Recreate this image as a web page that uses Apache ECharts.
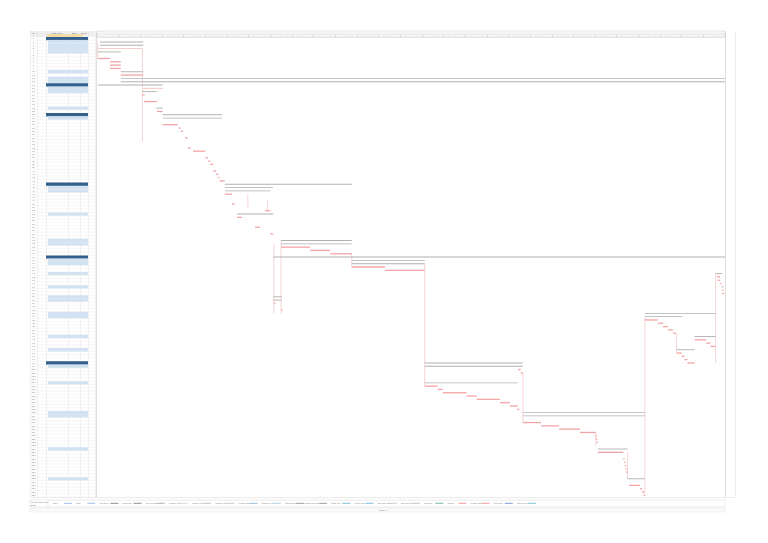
<!DOCTYPE html>
<html><head><meta charset="utf-8">
<script src="https://cdn.jsdelivr.net/npm/echarts@6/dist/echarts.min.js"></script>
<style>html,body{margin:0;padding:0;background:#fff}#c{width:768px;height:543px}</style>
</head><body><div id="c"></div><script>
// ---- data (days from project start, table rows) ----
const rowCount = 139;
const kindNames = ['crit', 'sum', 'csum'];
const taskRow = [1,2,3,4,6,7,8,9,10,11,12,13,14,15,16,17,19,21,22,23,24,26,27,28,30,33,34,36,37,38,40,41,42,43,44,45,46,47,50,52,53,54,57,59,61,62,63,64,65,66,67,68,69,70,71,72,73,74,75,76,77,78,79,80,82,83,84,85,86,87,88,89,90,91,92,93,94,95,96,97,98,98,99,100,101,104,105,106,107,108,109,110,111,112,113,114,116,117,118,119,120,121,122,124,125,127,128,129,130,131,133,135,136,137,138];
const taskStart = [4,4,1,1,1,18,18,18,33,33,33,33,1,64,63,63,65,82,83,91,91,91,113,116,122,126,133,150,154,157,161,165,168,170,177,177,177,177,187,233,194,194,219,240,255,255,255,295,323,244,353,353,353,399,857,859,860,863,865,866,866,244,244,245,255,759,759,759,777,784,791,798,828,828,844,850,803,803,810,814,818,454,454,583,587,454,454,472,479,512,526,558,572,582,590,590,590,615,640,669,690,691,692,694,694,729,730,731,732,733,735,737,752,755,757];
const taskEnd = [64,64,63,33,18,33,33,33,64,64,870,870,91,91,83,66,83,91,91,173,173,112,116,119,126,130,150,154,157,161,165,168,170,177,353,244,240,187,191,240,244,201,226,244,353,353,295,323,353,870,454,454,399,454,866,863,863,865,868,868,869,256,256,247,257,857,811,777,784,791,798,802,857,844,850,857,828,810,814,818,828,590,590,587,590,583,472,479,512,526,558,572,583,585,759,759,615,640,669,691,692,693,694,735,729,731,732,733,734,735,759,752,755,758,759];
const taskKind = [1,1,2,1,0,0,0,0,1,0,1,1,1,2,1,0,0,1,0,1,1,0,0,0,0,0,0,0,0,0,0,0,0,0,1,1,1,0,0,0,1,0,0,0,1,1,0,0,0,1,1,1,0,0,1,0,0,0,1,0,0,1,1,0,0,1,1,0,0,0,0,0,1,0,0,0,1,0,0,0,0,1,1,0,0,1,0,0,0,0,0,0,0,0,1,1,0,0,0,0,0,0,0,1,0,0,0,0,0,0,1,0,0,0,0];
const linkDay = [1,63,209,236,245,255,353,454,590,759,857,803,691,735];
const linkFrom = [1,3,47,49,62,61,65,68,101,84,71,89,119,125];
const linkTo = [6,31,51,52,83,83,69,105,116,138,98,95,123,133];
const darkRows = [0,14,23,44,66,98];
const headerLabels = ['ID', 'Task Name', 'Start', 'Finish'];
const legendLabels = ['Task','Split','Milestone','Summary','Project Summary','Inactive Task','Inactive Milestone','Inactive Summary','Manual Task','Duration-only','Manual Summary Rollup','Manual Summary','Start-only','Finish-only','External Tasks','External Milestone','Deadline','Critical','Critical Split','Progress','Manual Progress'];
const legendColors = ['#a9c6ea','#a9c6ea','#999','#999','#bbb','#d7e2f0','#ccc','#d6d6d6','#9cc3e3','#b5d7e8','#aaa','#aaa','#8cc3e0','#8cc3e0','#d0d0d0','#d0d0d0','#86c7a6','#f4a6a6','#f4a6a6','#8aa9d6','#92d0da'];

// ---- build ----
const taskData = taskRow.map((r, i) => [r, taskStart[i], taskEnd[i], taskKind[i]]);
const linkData = linkDay.map((d, i) => [d, linkFrom[i], linkTo[i]]);
const sumRows = new Set(taskRow.filter((r, i) => kindNames[taskKind[i]] !== 'crit'));
const tableData = [];
for (let r = 0; r < rowCount; r++) {
  tableData.push([r, darkRows.includes(r) ? 2 : (sumRows.has(r) ? 1 : 0)]);
}
const FONT = 'Liberation Sans, Arial, sans-serif';

function renderTask(params, api) {
  const r = api.value(0), s = api.value(1), e = api.value(2), k = kindNames[api.value(3)];
  const a = api.coord([s, r]), b = api.coord([e, r + 1]);
  const yc = (a[1] + b[1]) / 2;
  const w = Math.max(b[0] - a[0], 1.2);
  if (k === 'crit') {
    return {type: 'rect', shape: {x: a[0], y: yc - 0.65, width: w, height: 1.3},
      style: {fill: '#f3a5a5'}};
  }
  if (k === 'csum') {
    return {type: 'rect', shape: {x: a[0], y: yc - 0.45, width: w, height: 0.9},
      style: {fill: '#f2bcbc'}};
  }
  return {type: 'rect', shape: {x: a[0], y: yc - 0.45, width: w, height: 0.9},
    style: {fill: '#b0b0b0'}};
}
function renderLink(params, api) {
  const d = api.value(0), f = api.value(1), t = api.value(2);
  const a = api.coord([d, f + 0.5]), b = api.coord([d, t + 0.5]);
  return {type: 'line', shape: {x1: a[0], y1: a[1], x2: b[0], y2: b[1]},
    style: {stroke: '#f5c2c2', lineWidth: 0.7}};
}
const colOff = [0, 7, 16, 38, 50, 58, 65];
function renderRow(params, api) {
  const r = api.value(0), t = api.value(1);
  const a = api.coord([0, r]), b = api.coord([65, r + 1]);
  const h = b[1] - a[1];
  const ch = [];
  const xName = api.coord([colOff[2], r])[0];
  const xEnd = api.coord([colOff[5], r])[0];
  if (t === 2) {
    ch.push({type: 'rect', shape: {x: xName, y: a[1], width: xEnd - xName, height: h}, style: {fill: '#335f8f'}});
  } else if (t === 1) {
    ch.push({type: 'rect', shape: {x: xName + 2, y: a[1], width: xEnd - xName - 2, height: h}, style: {fill: '#d3e2f3'}});
  }
  ch.push({type: 'line', shape: {x1: a[0], y1: b[1], x2: b[0], y2: b[1]}, style: {stroke: '#e8e8e8', lineWidth: 0.4}});
  ch.push({type: 'text', x: api.coord([3.5, r])[0], y: a[1] + h / 2,
    style: {text: String(r), fill: '#888', fontSize: 2.4, fontFamily: FONT, align: 'center', verticalAlign: 'middle'}});
  return {type: 'group', children: ch};
}

// graphics: header, borders, footer legend
const g = [];
g.push({type: 'rect', shape: {x: 30, y: 31, width: 65, height: 6}, style: {fill: '#eeeeee'}});
g.push({type: 'rect', shape: {x: 47, y: 34, width: 36, height: 3}, style: {fill: '#f1dca5'}});
g.push({type: 'rect', shape: {x: 97, y: 31, width: 628, height: 6}, style: {fill: '#f7f7f7', stroke: '#d6d6d6', lineWidth: 0.5}});
g.push({type: 'line', shape: {x1: 97, y1: 34, x2: 725, y2: 34}, style: {stroke: '#d6d6d6', lineWidth: 0.5}});
const hx = [33.5, 57, 74, 84];
headerLabels.forEach((t, i) => g.push({type: 'text', x: hx[i], y: 32.2,
  style: {text: t, fontSize: 2.2, fill: '#777', fontFamily: FONT, align: 'center'}}));
colOff.forEach(o => g.push({type: 'line', shape: {x1: 30 + o + 0.5, y1: 31, x2: 30 + o + 0.5, y2: 497}, style: {stroke: '#e4e4e4', lineWidth: 0.5}}));
g.push({type: 'line', shape: {x1: 96.5, y1: 31, x2: 96.5, y2: 497}, style: {stroke: '#cccccc', lineWidth: 0.6}});
g.push({type: 'line', shape: {x1: 725.5, y1: 31, x2: 725.5, y2: 497}, style: {stroke: '#dcd0d0', lineWidth: 0.8}});
g.push({type: 'line', shape: {x1: 735.5, y1: 31, x2: 735.5, y2: 497}, style: {stroke: '#dddddd', lineWidth: 0.6}});
g.push({type: 'line', shape: {x1: 30, y1: 497.5, x2: 735, y2: 497.5}, style: {stroke: '#d6d6d6', lineWidth: 0.5}});
// footer
g.push({type: 'rect', shape: {x: 30, y: 500, width: 695, height: 7}, style: {fill: '#fff', stroke: '#d6d6d6', lineWidth: 0.5}});
g.push({type: 'line', shape: {x1: 48, y1: 500, x2: 48, y2: 507}, style: {stroke: '#d6d6d6', lineWidth: 0.5}});
g.push({type: 'text', x: 31, y: 501, style: {text: 'Project: Schedule', fontSize: 2.2, fill: '#777', fontFamily: FONT}});
g.push({type: 'text', x: 31, y: 504, style: {text: 'Date: ', fontSize: 2.2, fill: '#777', fontFamily: FONT}});
legendLabels.forEach((t, i) => {
  const x = 53 + i * 23.2;
  g.push({type: 'text', x: x, y: 502.3, style: {text: t, fontSize: 2.2, fill: '#888', fontFamily: FONT}});
  g.push({type: 'rect', shape: {x: x + 11, y: 502.8, width: 8, height: 1.1}, style: {fill: legendColors[i]}});
});
g.push({type: 'rect', shape: {x: 30, y: 508, width: 695, height: 4}, style: {fill: '#fafafa', stroke: '#e0e0e0', lineWidth: 0.4}});
g.push({type: 'text', x: 383, y: 509, style: {text: 'Page 1', fontSize: 2.4, fill: '#777', fontFamily: FONT, align: 'center'}});

const chart = echarts.init(document.getElementById('c'), null, {renderer: 'canvas'});
chart.setOption({
  animation: false,
  backgroundColor: '#ffffff',
  grid: [
    {left: 97, top: 37, width: 628, height: 460},
    {left: 30, top: 37, width: 65, height: 460}
  ],
  xAxis: [
    {gridIndex: 0, type: 'value', min: 0, max: 870, interval: 30, position: 'top',
      axisLine: {show: true, lineStyle: {color: '#d6d6d6', width: 0.5}},
      axisTick: {show: true, length: 3, lineStyle: {color: '#c4c4c4', width: 0.5}},
      minorTick: {show: true, splitNumber: 4, length: 1.5, lineStyle: {color: '#d6d6d6', width: 0.4}},
      axisLabel: {show: false}, splitLine: {show: false}},
    {gridIndex: 1, type: 'value', min: 0, max: 65, show: false}
  ],
  yAxis: [
    {gridIndex: 0, type: 'value', min: 0, max: rowCount, inverse: true, show: false},
    {gridIndex: 1, type: 'value', min: 0, max: rowCount, inverse: true, show: false}
  ],
  graphic: g,
  series: [
    {type: 'custom', xAxisIndex: 1, yAxisIndex: 1, renderItem: renderRow, data: tableData, encode: {x: -1, y: 0}, clip: false, silent: true},
    {type: 'custom', xAxisIndex: 0, yAxisIndex: 0, renderItem: renderLink, data: linkData, encode: {x: 0, y: [1, 2]}, clip: true, silent: true},
    {type: 'custom', xAxisIndex: 0, yAxisIndex: 0, renderItem: renderTask, data: taskData, encode: {x: [1, 2], y: 0}, clip: true, silent: true}
  ]
});
</script></body></html>
